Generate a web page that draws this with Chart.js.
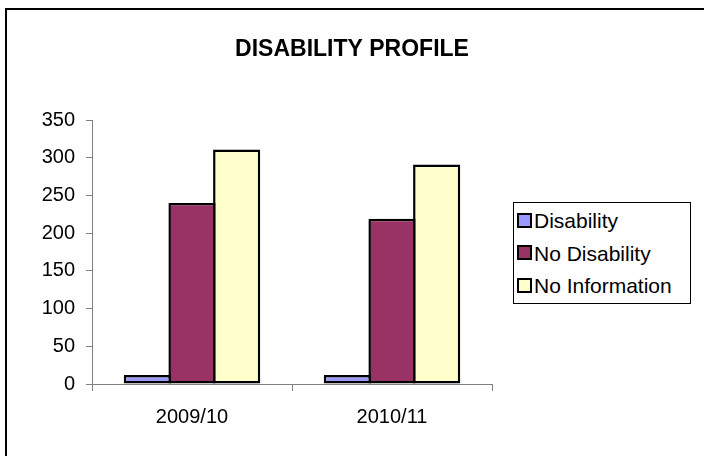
<!DOCTYPE html>
<html>
<head>
<meta charset="utf-8">
<title>Disability Profile</title>
<script src="https://cdn.jsdelivr.net/npm/chart.js@4.4.1/dist/chart.umd.min.js"></script>
<style>
  html, body { margin: 0; padding: 0; background: #fff; overflow: hidden; }
  #wrap { position: relative; width: 704px; height: 456px; overflow: hidden; }
  /* marco exterior del gráfico (sigue fuera del borde derecho e inferior) */
  #frame { position: absolute; left: 5px; top: 8px; width: 900px; height: 700px; border: 2px solid #000; }
  #chart { position: absolute; left: 0; top: 0; }
  #legend {
    position: absolute; left: 513px; top: 202px; width: 176px; height: 100px;
    border: 1px solid #000; background: #fff;
    font: 21px "Liberation Sans", Arial, sans-serif; color: #000;
  }
  .item { position: absolute; left: 3px; height: 32px; line-height: 32px; white-space: nowrap; }
  .swatch {
    display: inline-block; width: 11px; height: 11px; border: 2px solid #000;
    margin-right: 2px; vertical-align: middle; position: relative; top: -2px;
  }
</style>
</head>
<body>
<div id="wrap">
  <div id="frame"></div>
  <canvas id="chart" width="704" height="456"></canvas>
  <div id="legend"></div>
</div>
<script>
// Datos del gráfico
const years = ['2009/10', '2010/11'];
const seriesNames = ['Disability', 'No Disability', 'No Information'];
const disability = [12, 12];
const noDisability = [240, 219];
const noInformation = [311, 291];
const seriesColors = ['#9999FF', '#993366', '#FFFFCC'];
const yMax = 350;
const yStep = 50;

const FONT = '"Liberation Sans", Arial, sans-serif';
const seriesValues = [disability, noDisability, noInformation];

// Leyenda con caja, a la derecha del área del gráfico
const legend = document.getElementById('legend');
seriesNames.forEach((name, i) => {
    const item = document.createElement('div');
    item.className = 'item';
    item.style.top = (2 + i * 32.5) + 'px';
    item.innerHTML = `<span class="swatch" style="background:${seriesColors[i]}"></span>${name}`;
    legend.appendChild(item);
});

const datasets = seriesNames.map((name, i) => ({
    label: name,
    data: seriesValues[i],
    backgroundColor: seriesColors[i],
    borderColor: '#000',
    borderWidth: 2.5,
    borderSkipped: false,
    // barras un poco más anchas para que los bordes contiguos se solapen
    barPercentage: 1.056,
    categoryPercentage: 0.67
}));

new Chart(document.getElementById('chart').getContext('2d'), {
    type: 'bar',
    data: { labels: years, datasets: datasets },
    options: {
        responsive: false,
        animation: false,
        layout: { padding: 0 },
        plugins: {
            legend: { display: false },
            tooltip: { enabled: false },
            title: {
                display: true,
                text: 'DISABILITY PROFILE',
                color: '#000',
                font: { family: FONT, size: 23, weight: 'bold' },
                padding: { top: 36, bottom: 56.4 }
            }
        },
        scales: {
            x: {
                grid: { drawOnChartArea: false, drawTicks: true, tickLength: 7, color: '#808080', offset: true },
                border: { color: '#808080' },
                ticks: { color: '#000', font: { family: FONT, size: 20 }, padding: 14 },
                afterFit: s => { s.height = 72; }
            },
            y: {
                min: 0,
                max: yMax,
                ticks: { stepSize: yStep, color: '#000', font: { family: FONT, size: 20 }, padding: 11 },
                grid: { drawOnChartArea: false, drawTicks: true, tickLength: 6, color: '#808080' },
                border: { color: '#808080' },
                afterFit: s => { s.width = 92; }
            },
            // eje vacío que reserva el espacio de la leyenda
            pad: {
                type: 'linear',
                position: 'right',
                grid: { display: false },
                ticks: { display: false },
                border: { display: false },
                afterFit: s => { s.width = 212; }
            }
        }
    }
});
</script>
</body>
</html>
